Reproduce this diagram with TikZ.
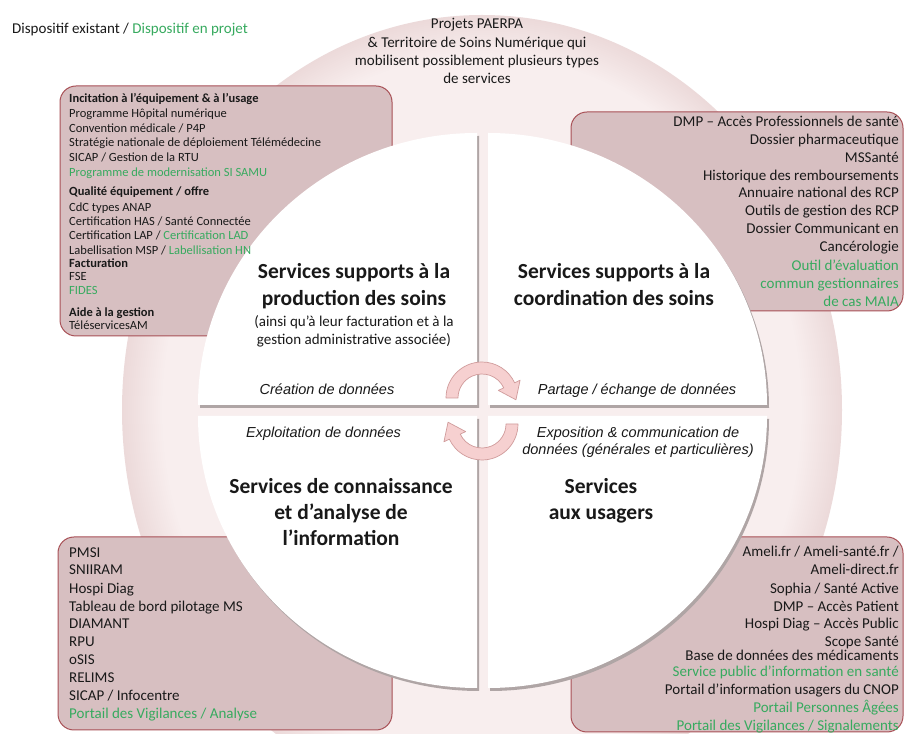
\documentclass[tikz,border=0pt]{standalone}
\usepackage{fontspec}
\setmainfont{Carlito}
\newfontfamily\arialf{Liberation Sans}
\usetikzlibrary{calc}
\definecolor{paleA}{RGB}{248,238,238}
\definecolor{paleB}{RGB}{236,218,218}
\definecolor{boxfill}{RGB}{215,191,193}
\definecolor{boxline}{RGB}{168,80,86}
\definecolor{grn}{RGB}{55,170,95}
\definecolor{txt}{RGB}{25,25,25}
\definecolor{arrfill}{RGB}{246,208,208}
\definecolor{arrline}{RGB}{208,155,155}
\definecolor{shadowc}{RGB}{175,165,165}
\begin{document}
\begin{tikzpicture}[x=1pt,y=1pt,
  sm/.style={inner sep=0, font=\fontsize{12.5}{14}\selectfont, text=txt},
  md/.style={inner sep=0, font=\fontsize{15}{18}\selectfont, text=txt},
  ttl/.style={inner sep=0, font=\fontsize{21.5}{26}\selectfont\bfseries, text=txt},
  itl/.style={inner sep=0, font=\arialf\itshape\fontsize{14.5}{17}\selectfont, text=txt},
  pbox/.style={fill=boxfill, draw=boxline, line width=1pt, rounded corners=16pt},
  quad/.style={fill=white},
  qshadow/.style={fill=shadowc},
  arr/.style={fill=arrfill, draw=arrline, line width=0.7pt, line join=round},
]
\useasboundingbox (0,0) rectangle (906,734);
\fill[white] (0,0) rectangle (906,734);
% big pale circle with a soft darker rim
\foreach \k in {0,...,20} {
  \pgfmathsetmacro\rx{360-2*\k}
  \pgfmathsetmacro\ry{395-2*\k}
  \pgfmathsetmacro\mm{100-5*\k}
  \fill[paleB!\mm!paleA] (482,324) ellipse[x radius=\rx, y radius=\ry];
}
% pink boxes
\path[pbox] (60,648) rectangle (392,398);
\path[pbox] (571,622) rectangle (903,423);
\path[pbox] (58,197) rectangle (392,4);
\path[pbox] (571,197) rectangle (903,2);
% quadrant shadows
\begin{scope}[shift={(2,-3)}]
\fill[qshadow] (477,329) -- (198,329) arc[start angle=180,end angle=90,x radius=279,y radius=272] -- cycle;
\fill[qshadow] (488,329) -- (488,601) arc[start angle=90,end angle=0,x radius=279,y radius=272] -- cycle;
\fill[qshadow] (477,318) -- (198,318) arc[start angle=180,end angle=270,x radius=279,y radius=272] -- cycle;
\fill[qshadow] (488,318) -- (767,318) arc[start angle=0,end angle=-90,x radius=279,y radius=272] -- cycle;
\end{scope}
% quadrants
\fill[quad] (477,329) -- (198,329) arc[start angle=180,end angle=90,x radius=279,y radius=272] -- cycle;
\fill[quad] (488,329) -- (488,601) arc[start angle=90,end angle=0,x radius=279,y radius=272] -- cycle;
\fill[quad] (477,318) -- (198,318) arc[start angle=180,end angle=270,x radius=279,y radius=272] -- cycle;
\fill[quad] (488,318) -- (767,318) arc[start angle=0,end angle=-90,x radius=279,y radius=272] -- cycle;
% circular arrows
\coordinate (O1) at (482,336);
\coordinate (O2) at (482,310);
\path[arr] ($(O1)+(180:36)$) arc[start angle=180,end angle=25,radius=36]
  -- ($(O1)+(25:42)$) -- ($(O1)+(-3:34)$) -- ($(O1)+(25:18)$) -- ($(O1)+(25:24)$)
  arc[start angle=25,end angle=180,radius=24] -- cycle;
\path[arr] ($(O2)+(0:36)$) arc[start angle=0,end angle=-155,radius=36]
  -- ($(O2)+(-155:42)$) -- ($(O2)+(177:34)$) -- ($(O2)+(-155:18)$) -- ($(O2)+(-155:24)$)
  arc[start angle=-155,end angle=0,radius=24] -- cycle;
% legend and top text
\node[md, anchor=base west] (legend) at (12,700) {Dispositif existant / \textcolor{grn}{Dispositif en projet}};
\node[md, anchor=base] (top1) at (477,705) {Projets PAERPA};
\node[md, anchor=base] (top2) at (477,686.5) {\& Territoire de Soins Numérique qui};
\node[md, anchor=base] (top3) at (477,668) {mobilisent possiblement plusieurs types};
\node[md, anchor=base] (top4) at (477,650) {de services};
% top-left box text
\foreach \t/\yy [count=\i] in {
 {\bfseries Incitation à l’équipement \& à l’usage}/631,
 {Programme Hôpital numérique}/616.5,
 {Convention médicale / P4P}/601.5,
 {Stratégie nationale de déploiement Télémédecine}/587.5,
 {SICAP / Gestion de la RTU}/572.5,
 {\color{grn}Programme de modernisation SI SAMU}/557.5,
 {\bfseries Qualité équipement / offre}/538,
 {CdC types ANAP}/522.5,
 {Certification HAS / Santé Connectée}/508.5,
 {Certification LAP / \textcolor{grn}{Certification LAD}}/494,
 {Labellisation MSP / \textcolor{grn}{Labellisation HN}}/479,
 {\bfseries Facturation}/466.5,
 {FSE}/453,
 {\color{grn}FIDES}/439,
 {\bfseries Aide à la gestion}/417.5,
 {TéléservicesAM}/404.5}
 {\node[sm, anchor=base west] (tl\i) at (69,\yy) {\t};}
% top-right box text
\foreach \t/\yy [count=\i] in {
 {DMP – Accès Professionnels de santé}/607,
 {Dossier pharmaceutique}/589.5,
 {MSSanté}/571,
 {Historique des remboursements}/553,
 {Annuaire national des RCP}/536,
 {Outils de gestion des RCP}/518,
 {Dossier Communicant en}/500,
 {Cancérologie}/482,
 {\color{grn}Outil d’évaluation}/463,
 {\color{grn}commun gestionnaires}/445,
 {\color{grn}de cas MAIA}/427.5}
 {\node[md, anchor=base east] (tr\i) at (899,\yy) {\t};}
% bottom-left box text
\foreach \t/\yy [count=\i] in {
 {PMSI}/176, {SNIIRAM}/159, {Hospi Diag}/140, {Tableau de bord pilotage MS}/122,
 {DIAMANT}/105, {RPU}/87, {oSIS}/69, {RELIMS}/51, {SICAP / Infocentre}/33,
 {\color{grn}Portail des Vigilances / Analyse}/15}
 {\node[md, anchor=base west] (bl\i) at (69,\yy) {\t};}
% bottom-right box text
\foreach \t/\yy [count=\i] in {
 {Ameli.fr / Ameli-santé.fr /}/177,
 {Ameli-direct.fr}/159,
 {Sophia / Santé Active}/140,
 {DMP – Accès Patient}/122,
 {Hospi Diag – Accès Public}/105,
 {Scope Santé}/87.5,
 {Base de données des médicaments}/73.5,
 {\color{grn}Service public d’information en santé}/57,
 {Portail d’information usagers du CNOP}/39,
 {\color{grn}Portail Personnes Âgées}/21,
 {\color{grn}Portail des Vigilances / Signalements}/3.5}
 {\node[md, anchor=base east] (br\i) at (899,\yy) {\t};}
% quadrant titles
\node[ttl, anchor=base] (q1a) at (354,455) {Services supports à la};
\node[ttl, anchor=base] (q1b) at (354,428) {production des soins};
\node[md, anchor=base] (q1c) at (354,407) {(ainsi qu’à leur facturation et à la};
\node[md, anchor=base] (q1d) at (354,389) {gestion administrative associée)};
\node[itl, anchor=base] (q1e) at (327,339) {Création de données};
\node[ttl, anchor=base] (q2a) at (614,455) {Services supports à la};
\node[ttl, anchor=base] (q2b) at (614,428) {coordination des soins};
\node[itl, anchor=base] (q2e) at (637,339) {Partage / échange de données};
\node[itl, anchor=base] (q3e) at (323.5,296) {Exploitation de données};
\node[ttl, anchor=base] (q3a) at (341,240.5) {Services de connaissance};
\node[ttl, anchor=base] (q3b) at (341,214.5) {et d’analyse de};
\node[ttl, anchor=base] (q3c) at (341,188.5) {l’information};
\node[itl, anchor=base] (q4e) at (638,296) {Exposition \& communication de};
\node[itl, anchor=base] (q4f) at (638,279.5) {données (générales et particulières)};
\node[ttl, anchor=base] (q4a) at (601,240.5) {Services};
\node[ttl, anchor=base] (q4b) at (601,214.5) {aux usagers};
\end{tikzpicture}
\end{document}
